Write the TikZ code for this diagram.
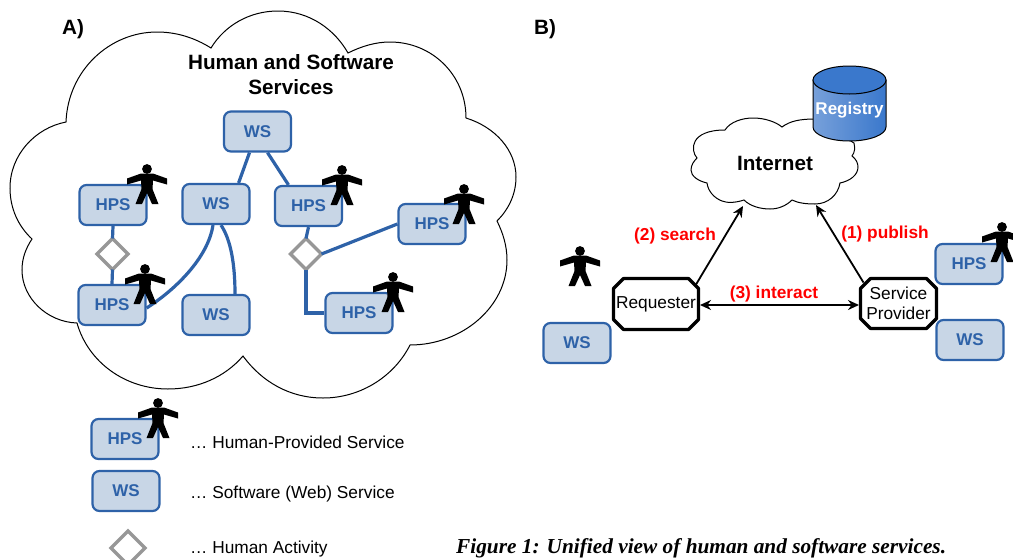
\documentclass[tikz,border=0pt]{standalone}
\usepackage{fontspec}
\usepackage{xcolor}
\setmainfont{Liberation Sans}
\newfontfamily\captionfont{Liberation Serif}
\usetikzlibrary{arrows.meta}
\usetikzlibrary{shapes.geometric, calc}
\definecolor{svcblue}{HTML}{2E62A8}
\definecolor{svcfill}{HTML}{C8D6E6}
\definecolor{activitygray}{HTML}{979797}
\definecolor{regdark}{HTML}{3A78CC}
\definecolor{reglight}{HTML}{77A0DA}
\tikzset{
  svcbox/.style={draw=svcblue, fill=svcfill, line width=2.2pt, rounded corners=7pt, minimum width=67pt, minimum height=40pt,
    inner sep=0pt, text=svcblue, font=\fontsize{17}{20}\selectfont\bfseries},
  activity/.style={diamond, draw=activitygray, fill=white, line width=3.2pt, minimum width=31pt, minimum height=31pt, inner sep=0pt, outer sep=0pt},
  svcline/.style={draw=svcblue, line width=3.2pt},
  role/.style={inner sep=0pt, outer sep=0pt, align=center, font=\fontsize{17.3}{20.5}\selectfont},
  octagon/.style={draw=black, fill=white, line width=3.2pt, line join=round},
  msg/.style={-{Stealth[length=11pt,width=10pt]}, line width=1.8pt},
  steplabel/.style={text=red, font=\fontsize{17.3}{20}\selectfont\bfseries},
  legendtext/.style={anchor=base west, inner sep=0pt, font=\fontsize{17.3}{20}\selectfont},
  person/.pic={
    \fill[black] (0,0) circle[radius=4.9pt];
    \fill[black] (-6,4.5) -- (6,4.5) -- (20,9.5) -- (20,15.5) -- (6,11.5) -- (5.5,20) -- (11.5,35) -- (5,35) -- (0,24) -- (-5,35) -- (-11.5,35) -- (-5.5,20) -- (-6,11.5) -- (-20,15.5) -- (-20,9.5) -- cycle;
  }
}
\begin{document}
\begin{tikzpicture}[x=1pt,y=-1pt]
  \useasboundingbox (0,0) rectangle (1013,560);
  % Cloud of services
  \draw[line width=1pt, fill=white] (66,122) .. controls (68,70) and (110,32) .. (157,32) .. controls (177,32) and (195,38) .. (211,48)
    .. controls (225,25) and (250,11) .. (278,11) .. controls (310,11) and (335,30) .. (348,53)
    .. controls (362,46) and (376,42) .. (390,42) .. controls (432,42) and (466,75) .. (466,118)
    .. controls (495,127) and (516,150) .. (516,177) .. controls (516,195) and (508,210) .. (497,221)
    .. controls (503,233) and (507,246) .. (507,260) .. controls (507,307) and (462,345) .. (410,345)
    .. controls (395,375) and (362,398) .. (323,398) .. controls (290,398) and (262,382) .. (243,356)
    .. controls (225,377) and (198,389) .. (168,389) .. controls (125,389) and (88,362) .. (77,323)
    .. controls (47,322) and (22,298) .. (22,270) .. controls (22,258) and (26,248) .. (32,239)
    .. controls (18,226) and (10,208) .. (10,188) .. controls (10,155) and (35,128) .. (66,122) -- cycle;
  \node[font=\fontsize{20.7}{25}\selectfont\bfseries] (labelA) at (73,29) {A)};
  \node[font=\fontsize{20.7}{25}\selectfont\bfseries] (labelB) at (545,29) {B)};
  \node[align=center, font=\fontsize{20.7}{25}\selectfont\bfseries] (title) at (291,74.5) {Human and Software\\Services};
  % Services inside the cloud
  \node[svcbox] (wsTop) at (257.5,131.5) {WS};
  \node[svcbox] (wsMid) at (216,204) {WS};
  \node[svcbox] (wsLow) at (216,315) {WS};
  \node[svcbox] (hpsA) at (113,205) {HPS};
  \node[svcbox] (hpsB) at (112,305) {HPS};
  \node[svcbox] (hpsC) at (308.5,206) {HPS};
  \node[svcbox] (hpsD) at (432,224) {HPS};
  \node[svcbox] (hpsE) at (359,313) {HPS};
  \node[activity] (actA) at (112.5,254) {};
  \node[activity] (actB) at (306,254) {};
  \draw[svcline] ([xshift=-8pt]wsTop.south) -- ([xshift=-12pt]wsMid.north east);
  \draw[svcline] ([xshift=10pt]wsTop.south) -- ([xshift=-20pt]hpsC.north);
  \draw[svcline] (hpsA.south) -- (actA.north);
  \draw[svcline] (actA.south) -- (hpsB.north);
  \draw[svcline] ([yshift=-3pt]hpsB.east) .. controls (175,290) and (208,258) .. ([xshift=-3pt]wsMid.south);
  \draw[svcline] ([xshift=5pt]wsMid.south) .. controls (231,240) and (235,265) .. ([xshift=19pt]wsLow.north);
  \draw[svcline] (hpsC.south) -- (actB.north);
  \draw[svcline] (actB.east) -- (hpsD.west);
  \draw[svcline] (actB.south) |- (hpsE.west);
  \foreach \px/\py in {147/169, 145/269, 342/170, 464/189, 393/277} {
    \pic at (\px,\py) {person};
  }
  % Internet and registry
  \draw[line width=1pt, fill=white] (697,158) .. controls (690,150) and (690,130) .. (725,130)
    .. controls (730,122) and (742,118) .. (753,118) .. controls (765,118) and (776,122) .. (782,127)
    .. controls (790,121) and (800,119) .. (815,119) -- (854,143) .. controls (855,148) and (855,152) .. (852,156)
    .. controls (856,159) and (858,163) .. (858,167) .. controls (858,175) and (850,181) .. (840,183)
    .. controls (838,195) and (828,204) .. (815,204) .. controls (806,204) and (798,203) .. (792,200)
    .. controls (786,206) and (778,209) .. (770,209) .. controls (760,209) and (750,206) .. (744,200)
    .. controls (735,203) and (727,203) .. (722,201) .. controls (714,198) and (708,191) .. (707,183)
    .. controls (698,181) and (691,176) .. (691,170) .. controls (691,165) and (694,161) .. (697,158) -- cycle;
  \node[font=\fontsize{20.7}{25}\selectfont\bfseries] (internet) at (775,163) {Internet};
  \shade[left color=reglight, right color=regdark, draw=black, line width=1pt]
    (813,80) -- (813,127) arc[start angle=180, end angle=360, x radius=36.5pt, y radius=14pt] -- (886,80) -- cycle;
  \fill[fill=regdark, draw=black, line width=1pt] (849.5,80) ellipse[x radius=36.5pt, y radius=14pt];
  \node[text=white, font=\fontsize{17}{20}\selectfont\bfseries] (registry) at (849.5,110) {Registry};
  % Roles
  \node[role, minimum width=85pt, minimum height=51pt] (requester) at (656,304) {};
  \node[role, minimum width=76pt, minimum height=50pt] (provider) at (898.5,303.5) {};
  \foreach \rolename in {requester, provider} {
    \draw[octagon] ($(\rolename.north west)+(10,0)$) -- ($(\rolename.north east)+(-10,0)$) -- ($(\rolename.north east)+(0,10)$)
      -- ($(\rolename.south east)+(0,-10)$) -- ($(\rolename.south east)+(-10,0)$) -- ($(\rolename.south west)+(10,0)$)
      -- ($(\rolename.south west)+(0,-10)$) -- ($(\rolename.north west)+(0,10)$) -- cycle;
  }
  \node[role] (requesterText) at (requester.center) {Requester};
  \node[role] (providerText) at (provider.center) {Service\\Provider};
  \coordinate (searchStart) at ($(requester.north east)+(-2.5,6)$);
  \coordinate (publishStart) at ($(provider.north west)+(3,4)$);
  \coordinate (searchEnd) at (743,206);
  \coordinate (publishEnd) at (816,205);
  \draw[msg] (searchStart) -- (searchEnd);
  \draw[msg] (publishStart) -- (publishEnd);
  \draw[msg, {Stealth[length=11pt,width=10pt]}-{Stealth[length=11pt,width=10pt]}] ([xshift=1.5pt,yshift=-1pt]requester.east) -- ([xshift=-1.5pt,yshift=-1.5pt]provider.west);
  \node[steplabel] (search) at (675,236) {(2) search};
  \node[steplabel] (publish) at (885,234) {(1) publish};
  \node[steplabel] (interact) at (774,294) {(3) interact};
  \node[svcbox] (wsClient) at (577,343) {WS};
  \node[svcbox] (hpsProvider) at (969,264) {HPS};
  \node[svcbox] (wsProvider) at (970,340) {WS};
  \pic at (580,251) {person};
  \pic at (1002,227) {person};
  % Legend
  \node[svcbox] (hpsKey) at (125,439) {HPS};
  \node[svcbox] (wsKey) at (126,491) {WS};
  \node[activity, minimum width=34pt, minimum height=34pt] (actKey) at (128,548) {};
  \pic at (158,403) {person};
  \node[legendtext] (hpsText) at (190,448) {… Human-Provided Service};
  \node[legendtext] (wsText) at (190,498) {… Software (Web) Service};
  \node[legendtext] (actText) at (190,553) {… Human Activity};
  \node[anchor=base west, inner sep=0pt, font=\captionfont\fontsize{21.3}{24}\selectfont\bfseries\itshape] (caption) at (456,553) {Figure 1: Unified view of human and software services.};
\end{tikzpicture}
\end{document}
